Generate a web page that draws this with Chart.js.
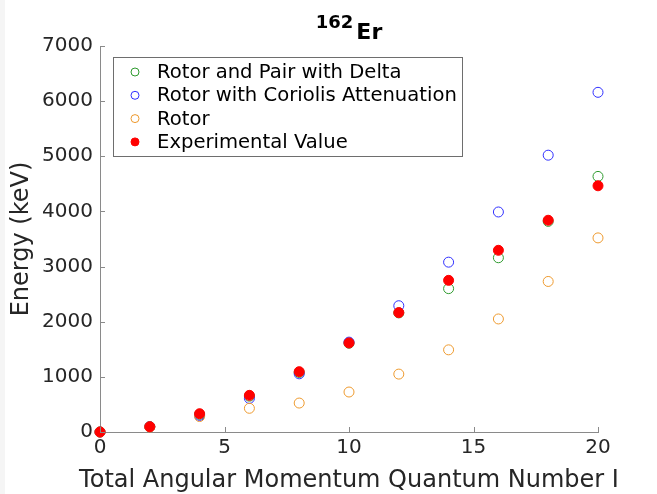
<!DOCTYPE html>
<html>
<head>
<meta charset="utf-8">
<script src="https://cdn.jsdelivr.net/npm/chart.js@4.4.0/dist/chart.umd.min.js"></script>
<style>
  body { margin: 0; background: #ffffff; }
  #wrap { width: 657px; height: 494px; position: relative; }
  #wrap::before { content: ""; position: absolute; left: 0; top: 0; width: 5px; height: 494px; background: #f5f5f5; }
  #chart { position: relative; }
</style>
</head>
<body>
<div id="wrap"><canvas id="chart" width="657" height="494"></canvas></div>
<script>
// angular momentum I values
const spins = [0, 2, 4, 6, 8, 10, 12, 14, 16, 18, 20];

// energies in keV
const pairDelta = [0, 98, 320, 650, 1080, 1610, 2160, 2600, 3160, 3820, 4635];
const coriolis = [0, 95, 300, 610, 1055, 1630, 2290, 3080, 3990, 5020, 6160];
const rotor = [0, 90, 280, 430, 525, 725, 1050, 1490, 2050, 2730, 3520];
const experimental = [0, 96, 332, 665, 1094, 1615, 2165, 2750, 3295, 3840, 4465];

const xTicks = [0, 5, 10, 15, 20];
const yTicks = [0, 1000, 2000, 3000, 4000, 5000, 6000, 7000];

const labels = ["Rotor and Pair with Delta", "Rotor with Coriolis Attenuation", "Rotor", "Experimental Value"];
const colours = ["#2e9a2e", "#3030ff", "#ee9a2e", "#ff0000"];
const xTitle = "Total Angular Momentum Quantum Number I";

const FONT = "'DejaVu Sans', sans-serif";
const AXIS = "#8a8a8a";
const TEXT = "#262626";

function points(vals) {
  return spins.map((s, i) => ({ x: s, y: vals[i] }));
}

const allSeries = [pairDelta, coriolis, rotor, experimental];

const datasets = allSeries.map((vals, i) => ({
  label: labels[i],
  data: points(vals),
  showLine: false,
  clip: false,
  order: 3 - i,
  pointRadius: 5,
  pointBorderWidth: 1,
  pointBorderColor: colours[i],
  pointBackgroundColor: i == 3 ? colours[i] : "rgba(0,0,0,0)"
}));

// inward tick marks like the original plot
const innerTicks = {
  id: "innerTicks",
  afterDraw(chart) {
    const ctx = chart.ctx;
    const xs = chart.scales.x, ys = chart.scales.y;
    const area = chart.chartArea;
    ctx.save();
    ctx.strokeStyle = AXIS;
    ctx.lineWidth = 1;
    ctx.beginPath();
    for (const t of yTicks) {
      const py = Math.round(ys.getPixelForValue(t)) + 0.5;
      ctx.moveTo(area.left, py);
      ctx.lineTo(area.left + 5, py);
    }
    for (const t of xTicks) {
      const px = Math.round(xs.getPixelForValue(t)) + 0.5;
      ctx.moveTo(px, area.bottom);
      ctx.lineTo(px, area.bottom - 5);
    }
    ctx.stroke();
    ctx.restore();
  }
};

// title with superscript mass number, plus the x axis title (wider than the axis)
const texts = {
  id: "texts",
  afterDraw(chart) {
    const ctx = chart.ctx;
    const area = chart.chartArea;
    const mid = (area.left + area.right) / 2;
    ctx.save();
    ctx.fillStyle = "#000000";
    ctx.textBaseline = "alphabetic";
    ctx.font = "bold 18px " + FONT;
    const w1 = ctx.measureText("162").width;
    ctx.font = "bold 22px " + FONT;
    const w2 = ctx.measureText("Er").width;
    const x0 = mid - (w1 + w2 + 3) / 2;
    ctx.font = "bold 18px " + FONT;
    ctx.fillText("162", x0, 28);
    ctx.font = "bold 22px " + FONT;
    ctx.fillText("Er", x0 + w1 + 3, 39);

    ctx.fillStyle = TEXT;
    ctx.font = "24px " + FONT;
    ctx.textAlign = "center";
    ctx.textBaseline = "middle";
    ctx.fillText(xTitle, mid, 481);
    ctx.restore();
  }
};

// boxed legend inside the plot, top left
const boxLegend = {
  id: "boxLegend",
  afterDraw(chart) {
    const ctx = chart.ctx;
    ctx.save();
    ctx.fillStyle = "#ffffff";
    ctx.fillRect(113, 57, 349, 99);
    ctx.strokeStyle = "#6e6e6e";
    ctx.lineWidth = 1;
    ctx.strokeRect(113.5, 57.5, 349, 99);
    ctx.font = "19.6px " + FONT;
    ctx.textBaseline = "middle";
    for (let i = 0; i < labels.length; i++) {
      const cy = 72 + i * 23.3;
      ctx.beginPath();
      ctx.arc(135, cy, 4, 0, Math.PI * 2);
      ctx.strokeStyle = colours[i];
      ctx.stroke();
      if (i == 3) {
        ctx.fillStyle = colours[i];
        ctx.fill();
      }
      ctx.fillStyle = "#000000";
      ctx.fillText(labels[i], 157, cy + 1);
    }
    ctx.restore();
  }
};

new Chart(document.getElementById("chart"), {
  type: "scatter",
  data: { datasets: datasets },
  plugins: [innerTicks, texts, boxLegend],
  options: {
    responsive: false,
    animation: false,
    layout: { padding: { left: 0, right: 59, top: 46, bottom: 0 } },
    plugins: {
      legend: { display: false },
      tooltip: { enabled: false },
      title: { display: false }
    },
    scales: {
      x: {
        type: "linear",
        min: 0,
        max: 20,
        afterFit: (s) => { s.height = 62; },
        afterBuildTicks: (s) => { s.ticks = xTicks.map(v => ({ value: v })); },
        grid: { display: false, drawTicks: false },
        border: { display: true, color: AXIS, width: 1 },
        ticks: { color: TEXT, font: { family: FONT, size: 20 }, padding: 4, maxRotation: 0 },
        title: { display: false }
      },
      y: {
        type: "linear",
        min: 0,
        max: 7000,
        afterFit: (s) => { s.width = 100; },
        afterBuildTicks: (s) => { s.ticks = yTicks.map(v => ({ value: v })); },
        grid: { display: false, drawTicks: false },
        border: { display: true, color: AXIS, width: 1 },
        ticks: { color: TEXT, font: { family: FONT, size: 20 }, padding: 7,
                 callback: (v) => String(v) },
        title: { display: true, text: "Energy (keV)", color: TEXT,
                 font: { family: FONT, size: 24 }, padding: { top: 7, bottom: 0 } }
      }
    }
  }
});
</script>
</body>
</html>
